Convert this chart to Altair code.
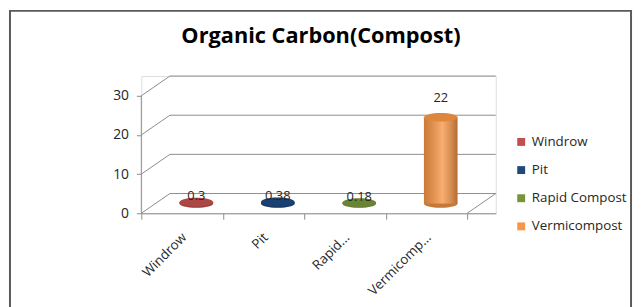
import altair as alt
import pandas as pd

# ---- data -----------------------------------------------------------
categories = ["Windrow", "Pit", "Rapid Compost", "Vermicompost"]
values = [0.3, 0.38, 0.18, 22]
axis_labels = ["Windrow", "Pit", "Rapid...", "Vermicomp..."]
colors = ["#C0504D", "#1F497D", "#77933C", "#F79646"]
y_ticks = [0, 10, 20, 30]
title_text = "Organic Carbon(Compost)"

# ---- layout constants (pixels) --------------------------------------
CAT_PX = 82.5          # width of one category on the front plane
UNIT_PX = 119 / 30     # pixels per value unit
DEPTH_X_PX = 29        # 3-D depth shift
DEPTH_Y_PX = 20
CYL_PX = 34            # cylinder diameter
N = len(categories)
DX = DEPTH_X_PX / CAT_PX
DY = DEPTH_Y_PX / UNIT_PX
YMAX = max(y_ticks)
W = N * CAT_PX + DEPTH_X_PX
H = YMAX * UNIT_PX + DEPTH_Y_PX
PAD_L, PAD_T = 135, 67
VIEW_W, VIEW_H = 634, 299

FONT = "Open Sans"
GRID = "#8c8c8c"

xs = alt.Scale(domain=[0, N + DX], nice=False, zero=False)
ys = alt.Scale(domain=[0, YMAX + DY], nice=False, zero=False)
cscale = alt.Scale(domain=categories, range=colors)

bars = pd.DataFrame({"category": categories, "value": values, "i": list(range(N))})
bars["cx"] = bars["i"] + 0.5 + DX / 2
bars["x0"] = bars["cx"] - CYL_PX / 2 / CAT_PX
bars["x1"] = bars["cx"] + CYL_PX / 2 / CAT_PX
bars["base"] = DY / 2
bars["top"] = bars["value"] + DY / 2
bars["label"] = bars["value"].map(lambda v: f"{v:g}")
bars["laby"] = bars["top"] + bars["value"].map(lambda v: (15 if v >= 5 else 2) / UNIT_PX)

rows = []
for t in y_ticks:
    rows.append(dict(x=DX, y=t + DY, x2=N + DX, y2=t + DY))   # back wall
    rows.append(dict(x=0, y=t, x2=DX, y2=t + DY))             # side wall
rows.append(dict(x=0, y=0, x2=0, y2=YMAX))                    # front value axis
rows.append(dict(x=N, y=0, x2=N + DX, y2=DY))                 # floor right edge
grid = pd.DataFrame(rows)

label_expr = "datum.value < %d ? %s[datum.value] : ''" % (N, str(axis_labels))

x_axis = alt.Axis(values=list(range(N + 1)), labelExpr=label_expr, title=None,
                  grid=False, domainColor=GRID, tickColor=GRID, tickSize=6,
                  labelAngle=315, labelAlign="right", labelBaseline="middle",
                  labelOffset=CAT_PX / 2 + 2, labelPadding=16, labelFont=FONT,
                  labelFontSize=13.5, labelColor="#262626", labelOverlap=False,
                  labelBound=False, labelFlush=False)
y_axis = alt.Axis(values=y_ticks, title=None, grid=False, domain=False,
                  tickColor=GRID, tickSize=5, labelPadding=8, labelFont=FONT,
                  labelFontSize=14, labelColor="#262626")
legend = alt.Legend(title=None, orient="none", legendX=378, legendY=60,
                    symbolType="square", symbolSize=64,
                    labelFont=FONT, labelFontSize=13.5,
                    labelColor="#262626", rowPadding=13.5,
                    labelOffset=4, padding=0, symbolStrokeWidth=0)


def X(f):
    return alt.X(f, type="quantitative", scale=xs, axis=x_axis)


def Y(f):
    return alt.Y(f, type="quantitative", scale=ys, axis=y_axis)


COLOR = alt.Color("category:N", scale=cscale, sort=categories, legend=legend)

border = alt.Chart(alt.Data(values=[{}])).mark_rect(
    fillOpacity=0, stroke="#5a5a5a", strokeWidth=2
).encode(
    x=alt.value(2 - PAD_L), x2=alt.value(VIEW_W - 3 - PAD_L),
    y=alt.value(1 - PAD_T), y2=alt.value(VIEW_H + 10 - PAD_T)
)

title = alt.Chart(alt.Data(values=[{"t": title_text}])).mark_text(
    font=FONT, fontSize=22, fontWeight="bold", color="black",
    align="center", baseline="alphabetic"
).encode(x=alt.value(182), y=alt.value(-33), text="t:N")

walls = alt.Chart(grid).mark_rule(color=GRID, strokeWidth=1).encode(
    x=X("x"), y=Y("y"), x2="x2:Q", y2="y2:Q",
)

ellipse = "M -1 0 A 1 0.26 0 1 0 1 0 A 1 0.26 0 1 0 -1 0 Z"

base = alt.Chart(bars)

bottom = base.mark_point(shape=ellipse, size=CYL_PX ** 2, filled=True, opacity=1).encode(
    x=X("cx"), y=Y("base"), color=COLOR,
)
bottom_shade = base.mark_point(shape=ellipse, size=CYL_PX ** 2, filled=True,
                               color="black", opacity=0.2).encode(
    x=X("cx"), y=Y("base"),
)

body = base.mark_bar().encode(
    x=X("x0"), x2="x1:Q", y=Y("base"), y2="top:Q", color=COLOR,
)
shade = base.mark_bar(fill={
    "gradient": "linear", "x1": 0, "x2": 1, "y1": 0, "y2": 0,
    "stops": [
        {"offset": 0, "color": "rgba(0,0,0,0.18)"},
        {"offset": 0.55, "color": "rgba(255,255,255,0.22)"},
        {"offset": 1, "color": "rgba(0,0,0,0.28)"},
    ]}).encode(
    x=X("x0"), x2="x1:Q", y=Y("base"), y2="top:Q",
)

top = base.mark_point(shape=ellipse, size=CYL_PX ** 2, filled=True, opacity=1).encode(
    x=X("cx"), y=Y("top"), color=COLOR,
)
top_shade = base.mark_point(shape=ellipse, size=CYL_PX ** 2, filled=True,
                            color="black", opacity=0.1).encode(
    x=X("cx"), y=Y("top"),
)

labels = base.mark_text(font=FONT, fontSize=13, color="#262626", baseline="alphabetic").encode(
    x=X("cx"), y=Y("laby"), text="label:N",
)

chart = alt.layer(border, title, walls, bottom, bottom_shade, body, shade, top, top_shade, labels).properties(
    width=W, height=H,
    autosize=alt.AutoSizeParams(type="none"),
    padding={"left": PAD_L, "top": PAD_T, "right": VIEW_W - PAD_L - W, "bottom": VIEW_H - PAD_T - H},
).configure_view(strokeWidth=0).configure(background="white")

chart.save("out.html", embed_options={"renderer": "svg", "actions": False})
